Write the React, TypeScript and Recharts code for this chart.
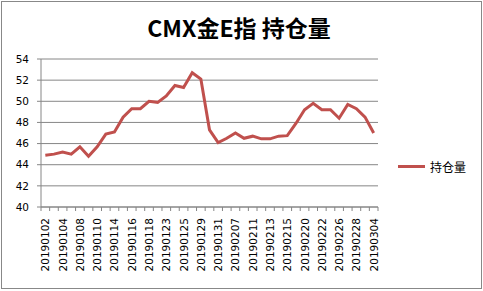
import React from "react";
import { LineChart, Line, XAxis, YAxis, CartesianGrid } from "recharts";

const dates = [
  "20190102", "20190103", "20190104", "20190107", "20190108", "20190109", "20190110",
  "20190111", "20190114", "20190115", "20190116", "20190117", "20190118", "20190122",
  "20190123", "20190124", "20190125", "20190128", "20190129", "20190130", "20190131",
  "20190201", "20190207", "20190208", "20190211", "20190212", "20190213", "20190214",
  "20190215", "20190219", "20190220", "20190221", "20190222", "20190225", "20190226",
  "20190227", "20190228", "20190301", "20190304",
];

const openInterest = [
  44.9, 45.0, 45.2, 45.0, 45.7, 44.8, 45.7, 46.9, 47.1, 48.5, 49.3, 49.3, 50.0, 49.9,
  50.5, 51.5, 51.3, 52.7, 52.1, 47.3, 46.1, 46.5, 47.0, 46.5, 46.7, 46.45, 46.45, 46.7,
  46.75, 47.9, 49.2, 49.8, 49.2, 49.2, 48.4, 49.7, 49.3, 48.5, 47.0,
];

const yTicks = [40, 42, 44, 46, 48, 50, 52, 54];

const data = dates.map((d, i) => ({ date: d, value: openInterest[i] }));

const LINE_COLOR = "#C0504D";
const GRID_COLOR = "#868686";
const AXIS_FONT = "DejaVu Sans, Verdana, sans-serif";
const PLOT_LEFT = 41;
const PLOT_RIGHT = 378;
const HALF_BAND = (PLOT_RIGHT - PLOT_LEFT) / dates.length / 2;

function DateTick(props: any) {
  const { x, y, payload, index } = props;
  const last = index === dates.length - 1;
  const tx = x + 4;
  const ty = y + 11;
  return (
    <g>
      <line x1={x - HALF_BAND} x2={x - HALF_BAND} y1={y} y2={y + 4} stroke={GRID_COLOR} />
      {last && <line x1={x + HALF_BAND} x2={x + HALF_BAND} y1={y} y2={y + 4} stroke={GRID_COLOR} />}
      {index % 2 === 0 && (
        <text
          x={tx}
          y={ty}
          transform={`rotate(-90, ${tx}, ${ty})`}
          textAnchor="end"
          fontSize={10.5}
          fontFamily={AXIS_FONT}
          fill="#000"
        >
          {payload.value}
        </text>
      )}
    </g>
  );
}

export default function App() {
  return (
    <div style={{ position: "absolute", left: 0, top: 0, width: 483, height: 291, background: "#fff" }}>
      <div
        style={{
          position: "absolute",
          left: 1,
          top: 1,
          width: 481,
          height: 288,
          boxSizing: "border-box",
          border: "1px solid #888",
        }}
      />
      <div
        style={{
          position: "absolute",
          left: 0,
          top: 12,
          width: 478,
          textAlign: "center",
          fontFamily: "Noto Sans CJK SC, sans-serif",
          fontWeight: 700,
          fontSize: 23,
          lineHeight: "30px",
          color: "#000",
        }}
      >
        CMX金E指 持仓量
      </div>
      <LineChart
        width={483}
        height={291}
        data={data}
        margin={{ top: 59, right: 483 - PLOT_RIGHT, bottom: 0, left: 0 }}
      >
        <CartesianGrid horizontal vertical={false} stroke={GRID_COLOR} />
        <XAxis
          dataKey="date"
          interval={0}
          height={84}
          padding={{ left: HALF_BAND, right: HALF_BAND }}
          tickSize={0}
          tickMargin={0}
          tickLine={false}
          axisLine={{ stroke: GRID_COLOR }}
          tick={<DateTick />}
        />
        <YAxis
          width={PLOT_LEFT}
          domain={[40, 54]}
          ticks={yTicks}
          interval={0}
          tickSize={4}
          tickMargin={8}
          axisLine={{ stroke: GRID_COLOR }}
          tickLine={{ stroke: GRID_COLOR }}
          tick={{ fontSize: 10.5, fill: "#000", fontFamily: AXIS_FONT }}
        />
        <Line
          type="linear"
          dataKey="value"
          stroke={LINE_COLOR}
          strokeWidth={3}
          dot={false}
          isAnimationActive={false}
        />
      </LineChart>
      <div
        style={{
          position: "absolute",
          left: 398,
          top: 158,
          display: "flex",
          alignItems: "center",
          fontFamily: "Noto Sans CJK SC, sans-serif",
          fontSize: 12,
          color: "#000",
        }}
      >
        <span style={{ display: "inline-block", width: 27, height: 3, background: LINE_COLOR, marginRight: 5 }} />
        <span>持仓量</span>
      </div>
    </div>
  );
}
